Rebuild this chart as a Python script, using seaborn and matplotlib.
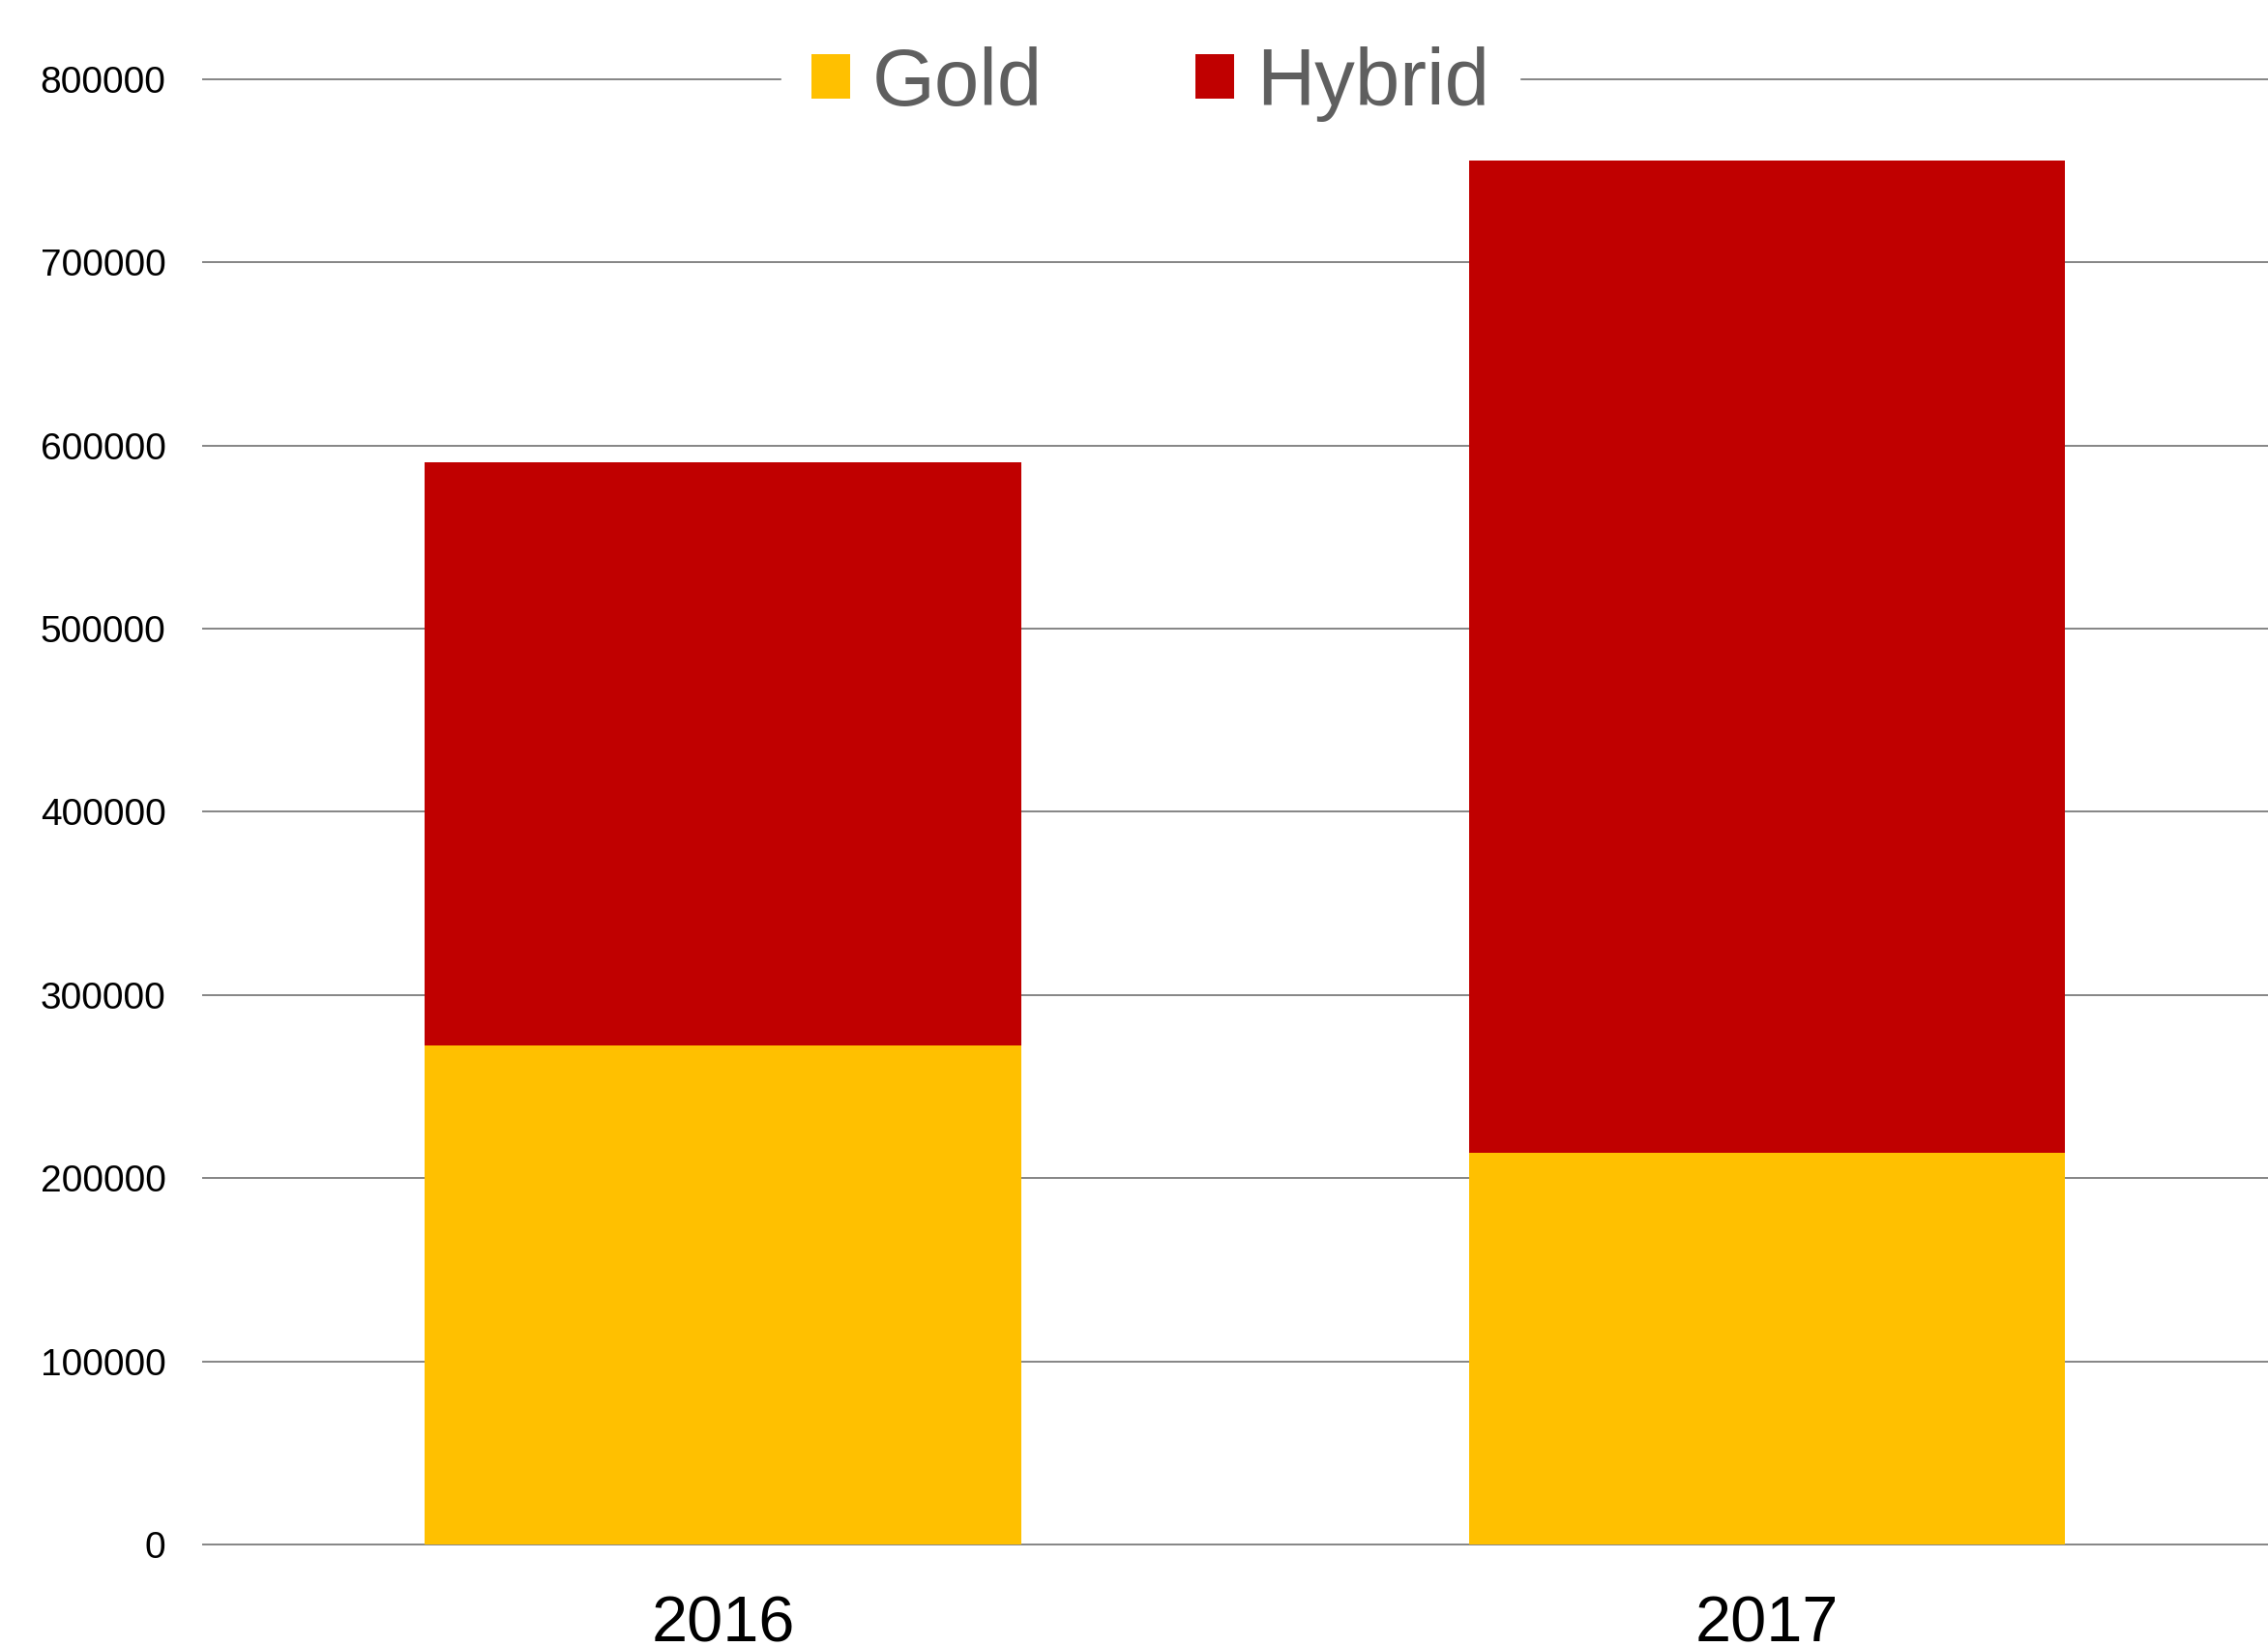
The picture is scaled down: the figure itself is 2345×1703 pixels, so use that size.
import pandas as pd
import matplotlib
matplotlib.use("Agg")
import matplotlib.pyplot as plt
import seaborn as sns

# Values
years = ["2016", "2017"]
gold = [272700, 214000]
hybrid = [318100, 541600]

df = pd.DataFrame({"Year": years, "Gold": gold, "Hybrid": hybrid})
df["Total"] = df["Gold"] + df["Hybrid"]

sns.set_style("white")
plt.rcParams["font.family"] = ["Liberation Sans", "DejaVu Sans"]

fig = plt.figure(figsize=(23.45, 17.03), dpi=100)
ax = fig.add_axes([0.0891, 0.0567, 0.9109, 0.9007])

# Stacked look: total (hybrid on top) first, then gold over the bottom part
sns.barplot(ax=ax, data=df, x="Year", y="Total", color="#C00000", width=0.571,
            saturation=1, label="Hybrid", linewidth=0, zorder=2)
sns.barplot(ax=ax, data=df, x="Year", y="Gold", color="#FFC000", width=0.571,
            saturation=1, label="Gold", linewidth=0, zorder=2)

ax.set_ylim(-5000, 805000)
ax.set_xlim(-0.499, 1.48)
ax.set_yticks(range(0, 800001, 100000))
ax.set_yticklabels([str(v) for v in range(0, 800001, 100000)])
ax.yaxis.grid(True, color="#888888", linewidth=1.44, zorder=0)
ax.set_axisbelow(True)
for s in ax.spines.values():
    s.set_visible(False)

ax.tick_params(axis="y", length=0, pad=27, labelsize=28, labelcolor="black")
ax.tick_params(axis="x", length=0, pad=31, labelsize=48, labelcolor="black")
ax.set_xlabel("")
ax.set_ylabel("")

handles, labels = ax.get_legend_handles_labels()
order = [labels.index("Gold"), labels.index("Hybrid")]
leg = ax.legend([handles[i] for i in order], [labels[i] for i in order],
                loc="center", bbox_to_anchor=(0.459, 0.9909), ncol=2,
                fontsize=60, frameon=True, framealpha=1, facecolor="white",
                edgecolor="white", fancybox=False, handlelength=0.48,
                handleheight=0.48, handletextpad=0.27, columnspacing=1.9,
                borderpad=0.37, borderaxespad=0)
leg.set_zorder(5)
for t in leg.get_texts():
    t.set_color("#5f5f5f")

fig.savefig("out.png", dpi=100, facecolor="white")
